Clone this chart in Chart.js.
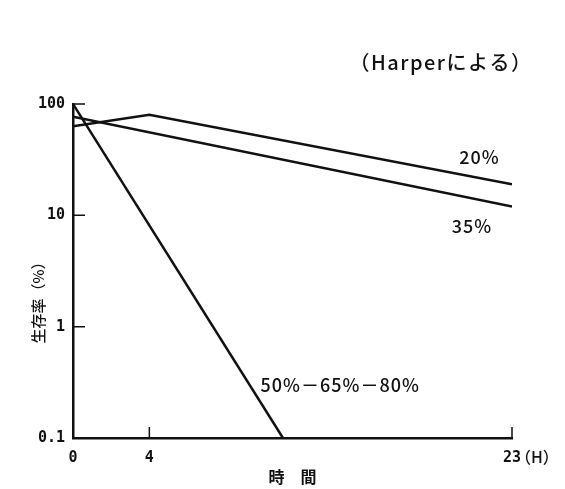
<!DOCTYPE html>
<html>
<head>
<meta charset="utf-8">
<script src="https://cdn.jsdelivr.net/npm/chart.js@4.4.0/dist/chart.umd.min.js"></script>
<style>
  html, body { margin: 0; padding: 0; background: #fff; }
  #wrap { width: 565px; height: 489px; }
</style>
</head>
<body>
<div id="wrap"><canvas id="c" width="565" height="489"></canvas></div>
<script>
// survival rate (%) vs hours, per humidity
const hours20 = [0, 4, 23];
const rate20 = [63, 80, 19];
const hours35 = [0, 23];
const rate35 = [77, 12];
const hoursHigh = [0, 11];
const rateHigh = [100, 0.1];
const seriesNames = ['20%', '35%', '50%－65%－80%'];
// where each series name sits, in data units [hour, rate]
const nameAnchors = [[21.3, 33], [20.9, 8], [14.0, 0.3]];
const xTicks = [0, 4, 23];
const yTicks = [0.1, 1, 10, 100];

const ink = '#111';
const jp = '"Noto Sans CJK JP", "Noto Sans", sans-serif';
const mono = '"DejaVu Sans Mono", monospace';

function pts(xs, ys) { return xs.map((x, i) => ({ x, y: ys[i] })); }

const notes = {
  id: 'notes',
  afterDraw(chart) {
    const { ctx, chartArea: a, scales: { x, y } } = chart;
    ctx.save();
    // inward tick marks
    ctx.strokeStyle = ink;
    ctx.lineWidth = 1.5;
    ctx.beginPath();
    yTicks.slice(1).forEach(v => { const p = y.getPixelForValue(v); ctx.moveTo(a.left, p); ctx.lineTo(a.left + 12, p); });
    xTicks.slice(1).forEach(v => { const p = x.getPixelForValue(v); ctx.moveTo(p, a.bottom); ctx.lineTo(p, a.bottom - 11); });
    ctx.stroke();

    ctx.fillStyle = ink;
    ctx.textBaseline = 'middle';
    ctx.textAlign = 'center';
    ctx.font = '500 18px ' + jp;
    ctx.letterSpacing = '1px';
    seriesNames.forEach((n, i) => {
      ctx.fillText(n, x.getPixelForValue(nameAnchors[i][0]), y.getPixelForValue(nameAnchors[i][1]));
    });

    ctx.font = '500 20px ' + jp;
    ctx.letterSpacing = '1.5px';
    ctx.fillText('（Harperによる）', 441, 62);

    // unit after the last hour tick
    ctx.textAlign = 'left';
    ctx.font = '500 16px ' + jp;
    ctx.letterSpacing = '0px';
    ctx.fillText('（H）', x.getPixelForValue(23) + 3, 457);

    // y axis title
    ctx.translate(38, 299);
    ctx.rotate(-Math.PI / 2);
    ctx.textAlign = 'center';
    ctx.font = '500 15px ' + jp;
    ctx.fillText('生存率（%）', 0, 0);
    ctx.restore();
  }
};

const line = (data, label) => ({
  label, data, borderColor: ink, backgroundColor: ink,
  borderWidth: 2.5, pointRadius: 0, tension: 0, fill: false
});

new Chart(document.getElementById('c'), {
  type: 'line',
  data: {
    datasets: [
      line(pts(hours20, rate20), seriesNames[0]),
      line(pts(hours35, rate35), seriesNames[1]),
      line(pts(hoursHigh, rateHigh), seriesNames[2])
    ]
  },
  options: {
    responsive: false,
    animation: false,
    devicePixelRatio: 1,
    layout: { padding: { top: 104, right: 53, bottom: 0, left: 0 } },
    plugins: { legend: { display: false }, tooltip: { enabled: false } },
    scales: {
      x: {
        type: 'linear', min: 0, max: 23,
        afterBuildTicks: s => { s.ticks = xTicks.map(value => ({ value })); },
        afterFit: s => { s.height = 51; },
        grid: { display: false, drawTicks: false },
        border: { display: true, color: ink, width: 2.5 },
        ticks: { color: ink, padding: 11, maxRotation: 0, font: { family: mono, size: 15, weight: 'bold' } },
        title: { display: true, text: '時　間', color: ink, padding: { top: 0, bottom: 2 }, font: { family: jp, size: 16, weight: 'bold' } }
      },
      y: {
        type: 'logarithmic', min: 0.1, max: 100,
        afterBuildTicks: s => { s.ticks = yTicks.map(value => ({ value })); },
        afterFit: s => { s.width = 73; },
        grid: { display: false, drawTicks: false },
        border: { display: true, color: ink, width: 2.5 },
        ticks: { color: ink, padding: 8, callback: v => String(v), font: { family: mono, size: 15, weight: 'bold' } }
      }
    }
  },
  plugins: [notes]
});
</script>
</body>
</html>
